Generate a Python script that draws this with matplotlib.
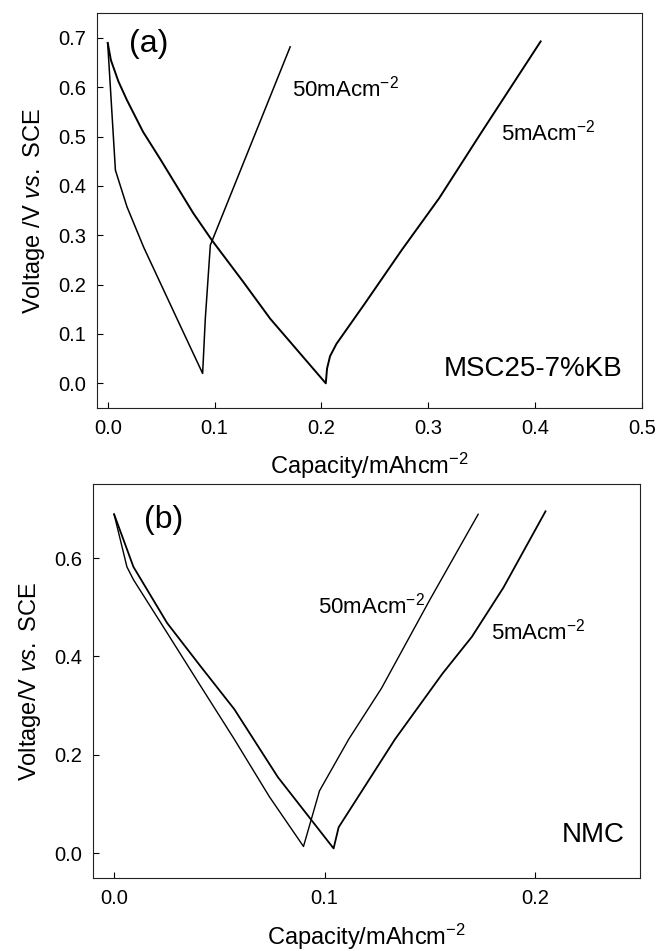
import matplotlib
matplotlib.use("Agg")
import matplotlib.pyplot as plt

plt.rcParams['font.family'] = ['Liberation Sans', 'DejaVu Sans']
plt.rcParams['mathtext.fontset'] = 'custom'
plt.rcParams['mathtext.rm'] = 'Liberation Sans'
plt.rcParams['mathtext.it'] = 'Liberation Sans:italic'

# (a) MSC25-7%KB
a50_x = [0.0, 0.0072, 0.018, 0.0336, 0.0648, 0.0888, 0.0913, 0.096, 0.1707]
a50_y = [0.689, 0.432, 0.358, 0.276, 0.131, 0.020, 0.131, 0.280, 0.682]
a5_x = [0.0, 0.003, 0.010, 0.018, 0.033, 0.049, 0.080, 0.0975, 0.127, 0.152, 0.204,
        0.2052, 0.208, 0.214, 0.240, 0.275, 0.310, 0.350, 0.405]
a5_y = [0.690, 0.655, 0.612, 0.574, 0.510, 0.455, 0.345, 0.290, 0.205, 0.131, 0.000,
        0.030, 0.055, 0.080, 0.160, 0.270, 0.375, 0.510, 0.693]

# (b) NMC
b50_x = [0.0, 0.0061, 0.0092, 0.0252, 0.0411, 0.0571, 0.0738, 0.090,
         0.0976, 0.1115, 0.127, 0.150, 0.173]
b50_y = [0.689, 0.582, 0.556, 0.448, 0.340, 0.232, 0.115, 0.014,
         0.127, 0.232, 0.335, 0.515, 0.689]
b5_x = [0.0, 0.0092, 0.0252, 0.0411, 0.0571, 0.0778, 0.1043, 0.1067,
        0.1335, 0.145, 0.156, 0.170, 0.185, 0.205]
b5_y = [0.689, 0.582, 0.468, 0.380, 0.293, 0.155, 0.010, 0.053,
        0.232, 0.300, 0.365, 0.440, 0.540, 0.695]

top_xticks = [0.0, 0.1, 0.2, 0.3, 0.4, 0.5]
top_yticks = [0.0, 0.1, 0.2, 0.3, 0.4, 0.5, 0.6, 0.7]
bot_xticks = [0.0, 0.1, 0.2]
bot_yticks = [0.0, 0.2, 0.4, 0.6]

fig = plt.figure(figsize=(6.6, 9.51), dpi=100)
ax1 = fig.add_axes([0.147, 0.571, 0.826, 0.415])
ax2 = fig.add_axes([0.141, 0.0768, 0.829, 0.414])


def style(ax, xt, yt):
    ax.set_xticks(xt)
    ax.set_yticks(yt)
    ax.set_xticklabels([f"{v:.1f}" for v in xt])
    ax.set_yticklabels([f"{v:.1f}" for v in yt])
    ax.tick_params(direction='in', length=4, width=0.8, labelsize=14.5, pad=8)
    for s in ax.spines.values():
        s.set_linewidth(0.8)
        s.set_color('#222222')


ax1.plot(a50_x, a50_y, color='black', lw=1.1)
ax1.plot(a5_x, a5_y, color='black', lw=1.4)
ax1.set_xlim(-0.01, 0.5)
ax1.set_ylim(-0.05, 0.75)
style(ax1, top_xticks, top_yticks)
ax1.set_xlabel('Capacity/mAhcm$^{-2}$', fontsize=17, labelpad=9)
ax1.set_ylabel(r'Voltage /V $\mathit{vs.}$ SCE', fontsize=17, labelpad=8)
ax1.text(0.0196, 0.687, '(a)', fontsize=23, va='center', ha='left')
ax1.text(0.172, 0.597, '50mAcm$^{-2}$', fontsize=16, va='center', ha='left')
ax1.text(0.368, 0.509, '5mAcm$^{-2}$', fontsize=16, va='center', ha='left')
ax1.text(0.482, 0.03, 'MSC25-7%KB', fontsize=20, va='center', ha='right')

ax2.plot(b50_x, b50_y, color='black', lw=1.0)
ax2.plot(b5_x, b5_y, color='black', lw=1.3)
ax2.set_xlim(-0.01, 0.25)
ax2.set_ylim(-0.05, 0.75)
style(ax2, bot_xticks, bot_yticks)
ax2.set_xlabel('Capacity/mAhcm$^{-2}$', fontsize=17, labelpad=10)
ax2.set_ylabel(r'Voltage/V $\mathit{vs.}$ SCE', fontsize=17, labelpad=8)
ax2.text(0.014, 0.677, '(b)', fontsize=23, va='center', ha='left')
ax2.text(0.0967, 0.503, '50mAcm$^{-2}$', fontsize=16, va='center', ha='left')
ax2.text(0.179, 0.45, '5mAcm$^{-2}$', fontsize=16, va='center', ha='left')
ax2.text(0.2425, 0.037, 'NMC', fontsize=20, va='center', ha='right')

fig.savefig('out.png', dpi=100)
